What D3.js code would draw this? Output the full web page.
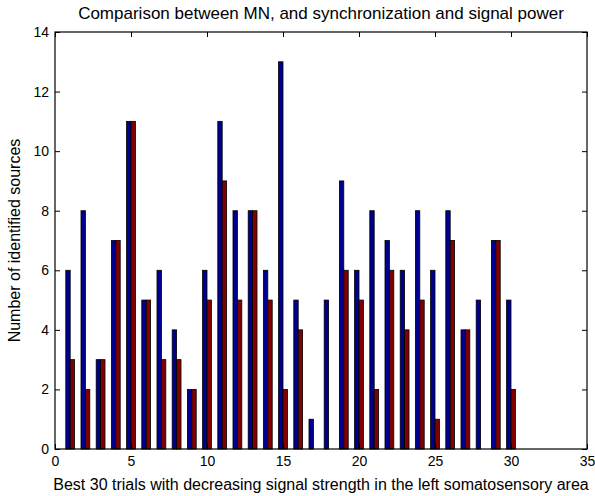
<!DOCTYPE html>
<html>
<head>
<meta charset="utf-8">
<script src="https://cdn.jsdelivr.net/npm/d3@7"></script>
<style>
  body { margin: 0; background: #fff; }
  svg { display: block; font-family: "Liberation Sans", Arial, sans-serif; }
</style>
</head>
<body>
<svg id="chart" width="595" height="496"></svg>
<script>
// trial index 1..30
const trials = d3.range(1, 31);
// number of identified sources per trial
const mnSources = [6, 8, 3, 7, 11, 5, 6, 4, 2, 6, 11, 8, 8, 6, 13, 5, 1, 5, 9, 6, 8, 7, 6, 8, 6, 8, 4, 5, 7, 5];
const syncSources = [3, 2, 3, 7, 11, 5, 3, 3, 2, 5, 9, 5, 8, 5, 2, 4, 0, 0, 6, 5, 2, 6, 4, 5, 1, 7, 4, 0, 7, 2];
const xTicks = [0, 5, 10, 15, 20, 25, 30, 35];
const yTicks = [0, 2, 4, 6, 8, 10, 12, 14];
const seriesColors = ['#00008f', '#800000'];

const margin = { top: 32, right: 8, bottom: 47, left: 55 };
const width = 595, height = 496;

const svg = d3.select('#chart');

const x = d3.scaleLinear().domain([0, 35]).range([margin.left, width - margin.right]);
const y = d3.scaleLinear().domain([0, 14]).range([height - margin.bottom, margin.top]);

const barW = 0.29; // in data units, bars of one group touch

const series = [mnSources, syncSources];
const bars = svg.append('g');
series.forEach((vals, s) => {
    bars.selectAll(null)
        .data(trials.map((t, i) => ({ t, v: vals[i] })))
        .enter()
        .append('rect')
        .attr('x', (d) => x(d.t - barW + s * barW))
        .attr('width', x(barW) - x(0))
        .attr('y', (d) => y(d.v))
        .attr('height', (d) => y(0) - y(d.v))
        .attr('fill', seriesColors[s])
        .attr('stroke', '#000')
        .attr('stroke-width', 0.8);
});

// inward ticks on all four sides, matlab style
const tickLen = 5;
const xAxisB = d3.axisBottom(x).tickValues(xTicks).tickSize(-tickLen).tickPadding(7);
const xAxisT = d3.axisTop(x).tickValues(xTicks).tickSize(-tickLen).tickFormat('');
const yAxisL = d3.axisLeft(y).tickValues(yTicks).tickSize(-tickLen).tickPadding(6);
const yAxisR = d3.axisRight(y).tickValues(yTicks).tickSize(-tickLen).tickFormat('');

function style(g) {
    g.attr('font-family', null).attr('font-size', null);
    g.selectAll('path').remove();
    g.selectAll('line').attr('stroke', '#000');
    g.selectAll('text').attr('fill', '#000').style('font-size', '14px');
}

svg.append('g').attr('transform', `translate(0,${y(0)})`).call(xAxisB).call(style);
svg.append('g').attr('transform', `translate(0,${y(14)})`).call(xAxisT).call(style);
svg.append('g').attr('transform', `translate(${x(0)},0)`).call(yAxisL).call(style);
svg.append('g').attr('transform', `translate(${x(35)},0)`).call(yAxisR).call(style);

svg.append('rect')
    .attr('x', x(0)).attr('y', y(14))
    .attr('width', x(35) - x(0)).attr('height', y(0) - y(14))
    .attr('fill', 'none').attr('stroke', '#000').attr('stroke-width', 1.2);

svg.append('text')
    .attr('x', (x(0) + x(35)) / 2).attr('y', 19)
    .attr('text-anchor', 'middle').style('font-size', '17px')
    .text('Comparison between MN, and synchronization and signal power');

svg.append('text')
    .attr('x', (x(0) + x(35)) / 2).attr('y', 490)
    .attr('text-anchor', 'middle').style('font-size', '16px')
    .text('Best 30 trials with decreasing signal strength in the left somatosensory area');

svg.append('text')
    .attr('transform', `translate(20,${(y(0) + y(14)) / 2}) rotate(-90)`)
    .attr('text-anchor', 'middle').style('font-size', '16px')
    .text('Number of identified sources');
</script>
</body>
</html>
